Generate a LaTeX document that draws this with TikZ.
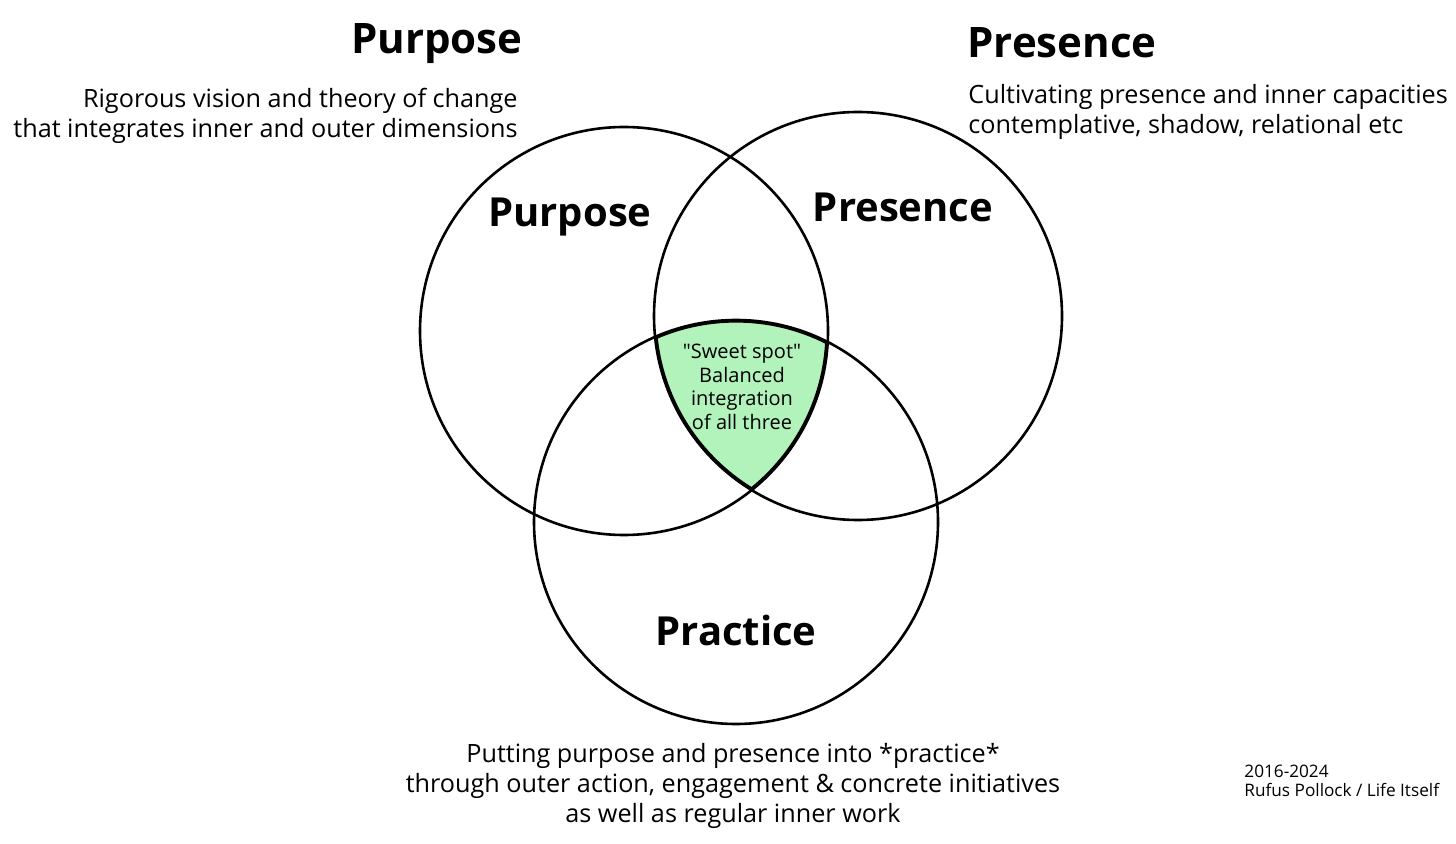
\documentclass[tikz,border=0pt]{standalone}
\usepackage{fontspec}
\setmainfont{Open Sans}
\definecolor{sweet}{HTML}{B2F2BB}
\def\straightq{\XeTeXglyph\XeTeXcharglyph"22\relax}
\begin{document}
\begin{tikzpicture}[x=0.5pt,y=-0.5pt,
  ring/.style={draw=black,line width=1.3pt},
  title/.style={font=\fontsize{21}{25}\selectfont\bfseries},
  inner/.style={font=\fontsize{20}{24}\selectfont\bfseries},
  desc/.style={font=\fontsize{12.6}{15}\selectfont,inner sep=0pt},
  spot/.style={font=\fontsize{10}{11.8}\selectfont,align=center},
  foot/.style={font=\fontsize{8.6}{9.2}\selectfont,align=left,inner sep=0pt}]
\useasboundingbox (0,0) rectangle (1456,844);
\coordinate (cpu) at (624,331);
\coordinate (cpr) at (858,316);
\coordinate (cpa) at (736,522);
% sweet spot fill
\begin{scope}
  \clip (cpu) circle (102pt);
  \clip (cpr) circle (102pt);
  \fill[sweet] (cpa) circle (101pt);
  \clip (cpa) circle (101pt);
  \draw[line width=2.6pt] (cpu) circle (102pt);
  \draw[line width=2.6pt] (cpr) circle (102pt);
  \draw[line width=2.6pt] (cpa) circle (101pt);
\end{scope}
\draw[ring] (cpu) circle (102pt);
\draw[ring] (cpr) circle (102pt);
\draw[ring] (cpa) circle (101pt);
% titles
\node[title] (t1) at (437,44) {Purpose};
\node[title] (t2) at (1062,43) {Presence};
\node[desc,align=right,anchor=east] (d1) at (518,116) {Rigorous vision and theory of change\\that integrates inner and outer dimensions};
\node[desc,align=left,anchor=west] (d2) at (968,112) {Cultivating presence and inner capacities\\contemplative, shadow, relational etc};
\node[inner] (i1) at (570,217) {Purpose};
\node[inner] (i2) at (903,207) {Presence};
\node[inner] (i3) at (736,630) {Practice};
\node[spot] (s) at (742,387) {\straightq Sweet spot\straightq\\Balanced\\integration\\of all three};
\node[desc,align=center] (d3) at (733,786) {Putting purpose and presence into *practice*\\through outer action, engagement \& concrete initiatives\\as well as regular inner work};
\node[foot,anchor=west] (f) at (1244,781) {2016-2024\\Rufus Pollock / Life Itself};
\end{tikzpicture}
\end{document}
